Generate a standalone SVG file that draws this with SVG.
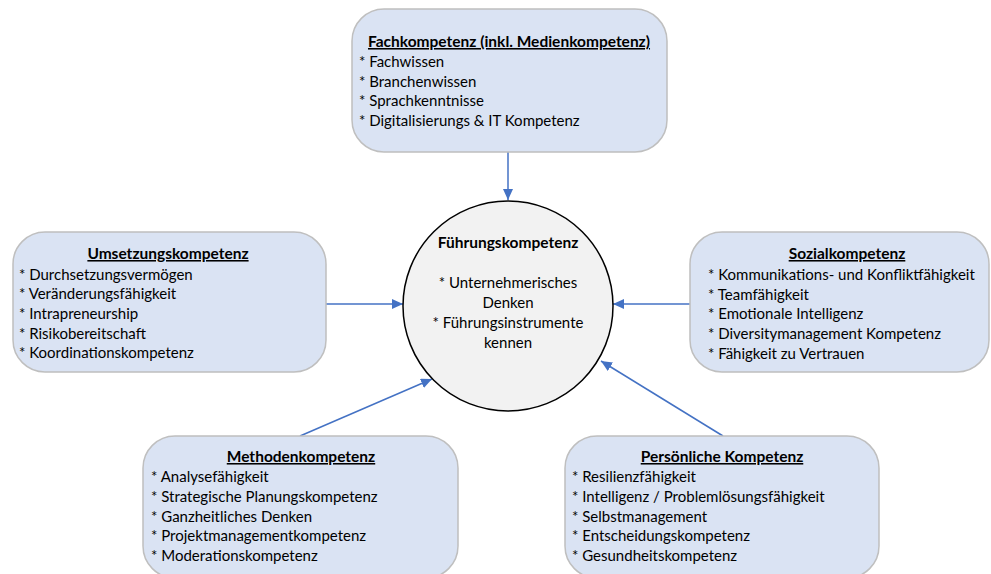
<svg xmlns="http://www.w3.org/2000/svg" width="991" height="574" viewBox="0 0 991 574">
<defs>
<style>
.box{fill:#dae3f3;stroke:#bfbfbf;stroke-width:1.5}
.circ{fill:#f2f2f2;stroke:#000;stroke-width:1.5}
text{font-family:Lato,"Open Sans",sans-serif;font-size:15px;fill:#000}
.t{font-weight:bold;font-size:15.5px;text-anchor:middle;text-decoration:underline}
.c{text-anchor:middle}
.cb{text-anchor:middle;font-weight:bold;font-size:15.5px}
.con{stroke:#4472c4;stroke-width:1.5;fill:none;marker-end:url(#ah)}
</style>
<marker id="ah" markerUnits="userSpaceOnUse" markerWidth="12" markerHeight="11" refX="11" refY="5" orient="auto" viewBox="0 0 12 11">
<path d="M0,0 L11,5 L0,10 z" fill="#4472c4"/>
</marker>
</defs>
<rect width="991" height="574" fill="#fff"/>
<g id="connectors">
<line class="con" x1="508" y1="152" x2="508" y2="200"/>
<line class="con" x1="326" y1="304" x2="403" y2="304"/>
<line class="con" x1="690" y1="304" x2="613" y2="304"/>
<line class="con" x1="300" y1="436" x2="432" y2="379"/>
<line class="con" x1="723" y1="436" x2="601" y2="361"/>
</g>
<g id="fach">
<rect class="box" x="352" y="9" width="315" height="143" rx="32"/>
<text class="t" x="509" y="47">Fachkompetenz (inkl. Medienkompetenz)</text>
<text x="359" y="67">* Fachwissen</text>
<text x="359" y="87">* Branchenwissen</text>
<text x="359" y="106">* Sprachkenntnisse</text>
<text x="359" y="126">* Digitalisierungs &amp; IT Kompetenz</text>
</g>
<g id="umsetzung">
<rect class="box" x="13" y="232" width="313" height="140" rx="32"/>
<text class="t" x="168" y="259">Umsetzungskompetenz</text>
<text x="19" y="280">* Durchsetzungsvermögen</text>
<text x="19" y="299">* Veränderungsfähigkeit</text>
<text x="19" y="319">* Intrapreneurship</text>
<text x="19" y="339">* Risikobereitschaft</text>
<text x="19" y="358">* Koordinationskompetenz</text>
</g>
<g id="fuehrung">
<circle class="circ" cx="508" cy="306" r="105"/>
<text class="cb" x="508" y="248">Führungskompetenz</text>
<text class="c" x="508" y="288">* Unternehmerisches</text>
<text class="c" x="508" y="308">Denken</text>
<text class="c" x="508" y="328">* Führungsinstrumente</text>
<text class="c" x="508" y="348">kennen</text>
</g>
<g id="sozial">
<rect class="box" x="690" y="232" width="299" height="140" rx="32"/>
<text class="t" x="847" y="259">Sozialkompetenz</text>
<text x="708" y="280">* Kommunikations- und Konfliktfähigkeit</text>
<text x="708" y="300">* Teamfähigkeit</text>
<text x="708" y="319">* Emotionale Intelligenz</text>
<text x="708" y="339">* Diversitymanagement Kompetenz</text>
<text x="708" y="359">* Fähigkeit zu Vertrauen</text>
</g>
<g id="methoden">
<rect class="box" x="143" y="436" width="315" height="142" rx="32"/>
<text class="t" x="301" y="462">Methodenkompetenz</text>
<text x="151" y="482">* Analysefähigkeit</text>
<text x="151" y="502">* Strategische Planungskompetenz</text>
<text x="151" y="522">* Ganzheitliches Denken</text>
<text x="151" y="541">* Projektmanagementkompetenz</text>
<text x="151" y="561">* Moderationskompetenz</text>
</g>
<g id="persoenlich">
<rect class="box" x="565" y="436" width="314" height="142" rx="32"/>
<text class="t" x="722" y="462">Persönliche Kompetenz</text>
<text x="572" y="482">* Resilienzfähigkeit</text>
<text x="572" y="502">* Intelligenz / Problemlösungsfähigkeit</text>
<text x="572" y="522">* Selbstmanagement</text>
<text x="572" y="541">* Entscheidungskompetenz</text>
<text x="572" y="561">* Gesundheitskompetenz</text>
</g>
</svg>
